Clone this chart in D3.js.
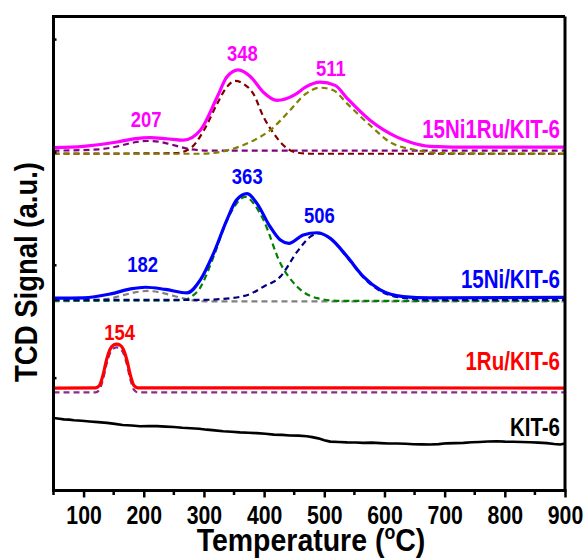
<!DOCTYPE html>
<html><head><meta charset="utf-8">
<script src="https://cdn.jsdelivr.net/npm/d3@7"></script>
<style>
html,body{margin:0;padding:0;background:#fff;}
text{font-family:"Liberation Sans Narrow","Arial Narrow","Liberation Sans",Arial,sans-serif;font-weight:bold;}
</style></head>
<body>
<svg id="chart" width="587" height="560"></svg>
<script>
// ---------- data ----------
const xTicks = [100,200,300,400,500,600,700,800,900];
const xMinorTicks = [50,150,250,350,450,550,650,750,850];
const yTicks = [1,2,3,4];

// 15Ni1Ru/KIT-6 : measured curve and fitted components  [temperature, signal]
const niRuTotal = [[50,3.039],[100,3.050],[156,3.088],[183,3.115],[211,3.127],[238,3.117],[266,3.104],[294,3.192],[322,3.486],[338,3.663],[357,3.727],[377,3.669],[399,3.528],[421,3.457],[452,3.510],[468,3.572],[493,3.619],[518,3.590],[538,3.475],[576,3.280],[620,3.133],[643,3.086],[676,3.050],[750,3.042],[900,3.042]];
const niRuPeak1 = [[50,3.011],[128,3.024],[145,3.037],[161,3.055],[185,3.086],[206,3.097],[226,3.090],[244,3.068],[262,3.042],[277,3.024],[311,3.011],[900,3.011]];
const niRuPeak2 = [[50,2.984],[253,2.989],[277,3.030],[300,3.192],[322,3.428],[338,3.575],[352,3.630],[367,3.599],[382,3.516],[399,3.310],[416,3.163],[432,3.059],[452,2.997],[477,2.984],[900,2.984]];
const niRuPeak3 = [[50,2.984],[294,2.984],[344,3.021],[377,3.088],[410,3.192],[443,3.369],[468,3.510],[493,3.569],[515,3.546],[538,3.428],[576,3.236],[609,3.088],[654,3.015],[692,2.989],[900,2.984]];

// 15Ni/KIT-6
const niTotal = [[50,1.704],[100,1.707],[145,1.742],[178,1.786],[203,1.801],[236,1.782],[272,1.751],[294,1.866],[316,2.102],[338,2.396],[354,2.573],[372,2.630],[388,2.544],[410,2.337],[427,2.219],[441,2.190],[465,2.264],[488,2.284],[510,2.234],[538,2.072],[565,1.895],[593,1.777],[631,1.718],[676,1.707],[900,1.711]];
const niPeak1 = [[50,1.676],[128,1.689],[145,1.702],[161,1.724],[185,1.755],[206,1.768],[226,1.757],[244,1.733],[262,1.707],[277,1.689],[302,1.676],[900,1.676]];
const niPeak2 = [[50,1.680],[261,1.684],[289,1.762],[316,2.072],[335,2.352],[349,2.502],[369,2.602],[382,2.547],[399,2.396],[427,2.013],[455,1.806],[488,1.704],[526,1.680],[900,1.680]];
const niPeak3 = [[50,1.689],[294,1.689],[344,1.704],[377,1.742],[399,1.806],[427,1.895],[455,2.116],[477,2.249],[490,2.277],[510,2.234],[538,2.065],[565,1.888],[593,1.768],[631,1.707],[676,1.689],[900,1.689]];

// 1Ru/KIT-6
const ruTotal = [[50,0.908],[120,0.910],[126,0.928],[132,1.017],[138,1.155],[144,1.252],[150,1.290],[155,1.297],[160,1.290],[166,1.252],[172,1.155],[178,1.017],[184,0.928],[190,0.910],[900,0.908]];
const ruPeak1 = [[50,0.869],[120,0.870],[126,0.890],[132,0.979],[138,1.117],[144,1.218],[150,1.260],[155,1.268],[160,1.260],[166,1.218],[172,1.117],[178,0.979],[184,0.890],[190,0.870],[900,0.869]];

// KIT-6
const kitTotal = [[50,0.643],[60,0.636],[67,0.630],[76,0.628],[84,0.622],[97,0.618],[110,0.612],[124,0.606],[139,0.599],[152,0.590],[165,0.580],[180,0.576],[194,0.569],[208,0.572],[222,0.570],[236,0.566],[250,0.563],[264,0.556],[278,0.552],[292,0.547],[305,0.539],[318,0.533],[332,0.525],[346,0.521],[360,0.515],[374,0.512],[388,0.508],[402,0.503],[416,0.495],[430,0.493],[443,0.488],[457,0.486],[471,0.480],[480,0.473],[490,0.462],[500,0.446],[510,0.433],[524,0.430],[538,0.426],[552,0.425],[565,0.422],[579,0.424],[593,0.420],[607,0.417],[621,0.416],[635,0.414],[648,0.410],[662,0.409],[676,0.407],[690,0.411],[703,0.418],[717,0.420],[731,0.422],[745,0.427],[758,0.430],[772,0.434],[786,0.436],[800,0.433],[814,0.432],[828,0.430],[842,0.427],[856,0.424],[870,0.420],[882,0.412],[892,0.407],[900,0.416]];

const seriesNames = ["15Ni1Ru/KIT-6","15Ni/KIT-6","1Ru/KIT-6","KIT-6"];
const seriesColors = ["#FF00FF","#0000FF","#FF0000","#000000"];
const seriesLabelPos = [[900,3.12],[900,1.79],[900,1.07],[900,0.48]];

const peakLabels = ["207","348","511","182","363","506","154"];
const peakLabelPos = [[204,3.22],[364,3.81],[511,3.67],[198,1.94],[372,2.72],[492,2.37],[160,1.33]];
const peakLabelSeries = [0,0,0,1,1,1,2];

const componentColors = ["#800080","#800000","#808000","#808080","#008000","#000080","#8A2B8A"];

// ---------- chart ----------
const svg = d3.select("#chart");
const x = d3.scaleLinear().domain([50,900]).range([53.5,565]);
const y = d3.scaleLinear().domain([0,4.2]).range([490.5,16.5]);

const line = d3.line().x(d=>x(d[0])).y(d=>y(d[1])).curve(d3.curveMonotoneX);

function condense(sel, f){
  sel.each(function(){
    const L = this.getComputedTextLength();
    d3.select(this).attr("textLength", L*f).attr("lengthAdjust","spacingAndGlyphs");
  });
}

const components = [niRuPeak1,niRuPeak2,niRuPeak3,niPeak1,niPeak2,niPeak3,ruPeak1];
svg.append("g").selectAll("path").data(components).join("path")
  .attr("d", line).attr("fill","none")
  .attr("stroke",(d,i)=>componentColors[i]).attr("stroke-width",2.2)
  .attr("stroke-dasharray","6,4");

const totals = [niRuTotal,niTotal,ruTotal,kitTotal];
svg.append("g").selectAll("path").data(totals).join("path")
  .attr("d", (d,i)=> i===3 ? d3.line().x(p=>x(p[0])).y(p=>y(p[1]))(d) : line(d))
  .attr("fill","none")
  .attr("stroke",(d,i)=>seriesColors[i])
  .attr("stroke-width",(d,i)=>i===3?2.6:3.2)
  .attr("stroke-linejoin","round");

// series labels
svg.append("g").selectAll("text").data(seriesNames).join("text")
  .attr("x",(d,i)=>x(seriesLabelPos[i][0])-5)
  .attr("y",(d,i)=>y(seriesLabelPos[i][1]))
  .attr("text-anchor","end")
  .attr("font-size",25)
  .attr("fill",(d,i)=>seriesColors[i])
  .text(d=>d)
  .call(condense, 0.82);

// peak labels
svg.append("g").selectAll("text").data(peakLabels).join("text")
  .attr("x",(d,i)=>x(peakLabelPos[i][0]))
  .attr("y",(d,i)=>y(peakLabelPos[i][1]))
  .attr("text-anchor","middle")
  .attr("font-size",22.5)
  .attr("fill",(d,i)=>seriesColors[peakLabelSeries[i]])
  .text(d=>d)
  .call(condense, 0.82);

// frame
svg.append("line").attr("x1",x(50)).attr("x2",x(900)).attr("y1",y(4.2)).attr("y2",y(4.2))
  .attr("stroke","#000").attr("stroke-width",3);
svg.append("line").attr("x1",x(900)).attr("x2",x(900)).attr("y1",y(4.2)).attr("y2",y(0))
  .attr("stroke","#000").attr("stroke-width",3);

// x axis
const gx = svg.append("g").attr("transform",`translate(0,${y(0)})`);
gx.call(d3.axisBottom(x).tickValues(xTicks).tickSize(7).tickPadding(9).tickFormat(d3.format("d")));
gx.select(".domain").attr("stroke-width",3).attr("d",`M${x(50)-1.5},0H${x(900)+1.5}`);
gx.selectAll(".tick line").attr("stroke-width",2.5);
gx.selectAll(".tick text").attr("font-size",25).attr("font-family",null).attr("fill","#000")
  .call(condense, 0.85);
gx.selectAll(".minor").data(xMinorTicks).join("line").attr("class","minor")
  .attr("x1",d=>x(d)).attr("x2",d=>x(d)).attr("y1",0).attr("y2",4.5)
  .attr("stroke","#000").attr("stroke-width",2.5);

// y axis
const gy = svg.append("g").attr("transform",`translate(${x(50)},0)`);
gy.call(d3.axisLeft(y).tickValues(yTicks).tickSize(-3).tickFormat(""));
gy.select(".domain").attr("stroke-width",3).attr("d",`M0,${y(4.2)-1.5}V${y(0)+1.5}`);
gy.selectAll(".tick line").attr("stroke-width",2.5);

// axis titles
const xtG = svg.append("g").attr("transform","translate(311,551) scale(0.89,1)");
const xt = xtG.append("text").attr("x",0).attr("y",0).attr("text-anchor","middle")
  .attr("font-size",32).attr("fill","#000");
xt.append("tspan").text("Temperature (");
xt.append("tspan").attr("font-size",20).attr("dy",-12).text("o");
xt.append("tspan").attr("dy",12).text("C)");

svg.append("g").attr("transform","translate(37,272) rotate(-90) scale(0.86,1)")
  .append("text").attr("x",0).attr("y",0)
  .attr("text-anchor","middle").attr("font-size",32).attr("fill","#000")
  .text("TCD Signal (a.u.)");
</script>
</body></html>
